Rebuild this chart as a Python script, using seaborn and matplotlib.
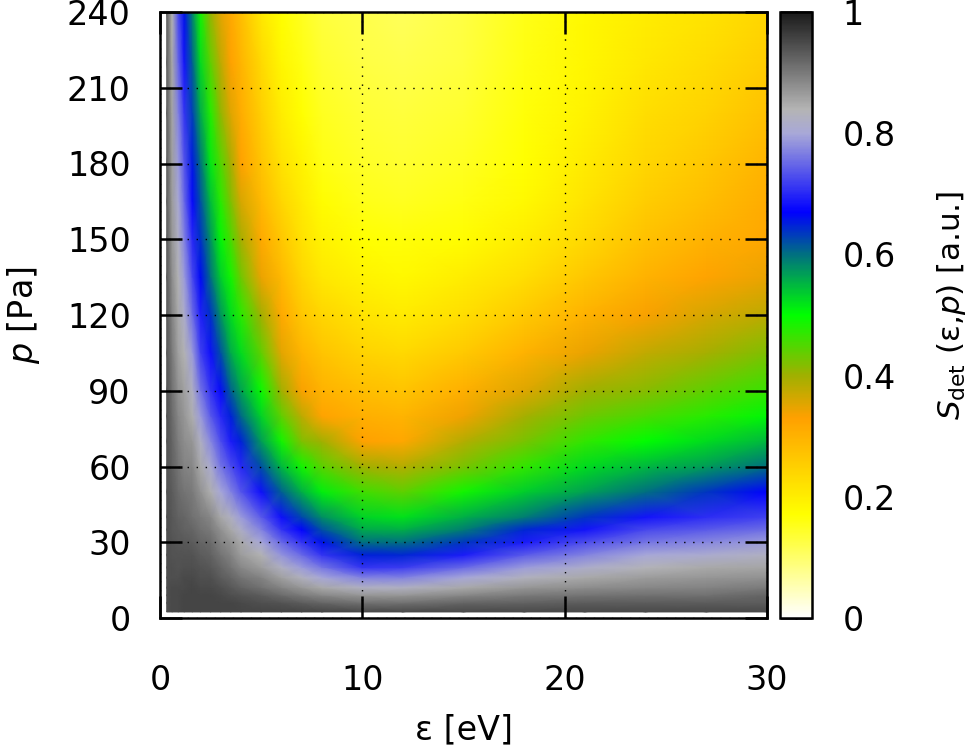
import numpy as np
import pandas as pd
import seaborn as sns
import matplotlib
matplotlib.use('Agg')
import matplotlib.pyplot as plt
from matplotlib.colors import LinearSegmentedColormap

# grid of the map, finer where the signal changes fast
energy_ev = [0.33, 0.6, 0.9, 1.2, 1.6, 2, 2.5, 3, 3.5, 4, 5, 6, 7, 8, 10, 12, 15, 18, 21, 24, 27, 30]
pressure_pa = [2.4, 6, 9, 12, 16, 20, 25, 30, 35, 40, 50, 60, 70, 80, 90, 105, 120, 135, 150, 165, 180, 200, 220, 240]

# signal, one list per energy, low to high pressure
s_e0p33 = [.945, .945, .945, .945, .945, .945, .945, .945, .945, .945, .94, .94, .94, .94, .94, .935, .935, .935, .935, .93, .93, .93, .93, .93]
s_e0p6 = [.95, .95, .95, .95, .945, .945, .94, .94, .935, .935, .93, .925, .92, .915, .91, .90, .89, .88, .87, .865, .86, .855, .85, .84]
s_e0p9 = [.95, .95, .95, .95, .945, .94, .94, .935, .93, .925, .915, .905, .895, .885, .875, .86, .85, .84, .825, .805, .79, .77, .75, .73]
s_e1p2 = [.955, .955, .955, .95, .95, .945, .94, .935, .925, .92, .905, .89, .88, .87, .86, .84, .815, .79, .77, .75, .735, .71, .685, .66]
s_e1p6 = [.955, .955, .955, .955, .95, .945, .94, .93, .92, .91, .90, .885, .87, .845, .825, .79, .755, .725, .70, .675, .655, .63, .61, .585]
s_e2 = [.955, .955, .955, .95, .945, .94, .93, .92, .91, .90, .875, .85, .825, .79, .76, .72, .695, .665, .64, .62, .60, .56, .525, .49]
s_e2p5 = [.955, .955, .955, .95, .945, .935, .925, .915, .90, .885, .845, .81, .775, .74, .71, .68, .64, .60, .575, .545, .515, .48, .44, .405]
s_e3 = [.955, .955, .95, .945, .93, .92, .905, .89, .875, .85, .80, .76, .73, .70, .675, .62, .575, .535, .505, .475, .45, .41, .38, .35]
s_e3p5 = [.955, .955, .945, .935, .92, .905, .89, .875, .85, .825, .77, .73, .69, .65, .61, .56, .525, .49, .455, .42, .395, .355, .33, .315]
s_e4 = [.955, .95, .94, .925, .905, .885, .865, .85, .82, .79, .735, .70, .65, .605, .565, .525, .475, .43, .395, .36, .33, .31, .295, .28]
s_e5 = [.955, .945, .93, .91, .89, .865, .84, .80, .77, .74, .68, .62, .57, .53, .495, .44, .40, .345, .315, .29, .27, .25, .235, .21]
s_e6 = [.955, .94, .915, .89, .86, .825, .785, .75, .71, .68, .61, .55, .49, .44, .40, .35, .315, .29, .265, .24, .22, .20, .185, .17]
s_e7 = [.955, .93, .90, .87, .83, .79, .75, .71, .67, .625, .555, .49, .42, .38, .335, .295, .265, .24, .22, .205, .19, .17, .16, .15]
s_e8 = [.955, .92, .885, .85, .80, .76, .71, .66, .62, .58, .51, .445, .40, .325, .30, .27, .24, .21, .19, .175, .16, .15, .14, .13]
s_e10 = [.95, .91, .87, .825, .77, .71, .65, .60, .56, .53, .46, .40, .33, .305, .28, .245, .215, .19, .17, .155, .145, .135, .125, .12]
s_e12 = [.95, .91, .87, .825, .77, .715, .645, .60, .555, .52, .44, .385, .32, .295, .27, .235, .205, .18, .165, .15, .14, .13, .12, .11]
s_e15 = [.95, .92, .885, .85, .80, .75, .69, .635, .59, .555, .49, .425, .385, .34, .305, .26, .225, .20, .175, .16, .15, .14, .13, .125]
s_e18 = [.95, .925, .90, .87, .83, .79, .74, .69, .645, .59, .535, .47, .425, .395, .355, .30, .26, .225, .20, .18, .17, .165, .16, .155]
s_e21 = [.95, .93, .905, .88, .85, .815, .77, .73, .685, .635, .565, .525, .47, .43, .40, .345, .30, .265, .235, .215, .205, .19, .185, .18]
s_e24 = [.95, .93, .91, .885, .865, .835, .80, .76, .725, .685, .60, .55, .50, .455, .415, .375, .335, .30, .275, .255, .24, .225, .21, .20]
s_e27 = [.95, .93, .91, .89, .87, .85, .81, .775, .74, .705, .635, .57, .525, .475, .44, .395, .36, .325, .30, .28, .265, .245, .23, .215]
s_e30 = [.95, .93, .92, .90, .875, .855, .825, .79, .755, .72, .67, .60, .55, .505, .465, .42, .38, .345, .32, .31, .295, .275, .255, .24]

columns = [s_e0p33, s_e0p6, s_e0p9, s_e1p2, s_e1p6, s_e2, s_e2p5, s_e3, s_e3p5, s_e4, s_e5, s_e6, s_e7,
           s_e8, s_e10, s_e12, s_e15, s_e18, s_e21, s_e24, s_e27, s_e30]

x_ticks = [0, 10, 20, 30]
y_ticks = [0, 30, 60, 90, 120, 150, 180, 210, 240]
cbar_ticks = [0, 0.2, 0.4, 0.6, 0.8, 1]
cbar_labels = ['0', '0.2', '0.4', '0.6', '0.8', '1']

signal = pd.DataFrame(np.column_stack(columns), index=pressure_pa, columns=energy_ev)

cmap = LinearSegmentedColormap.from_list('sdet', [
    (0.0, '#ffffff'), (0.17, '#ffff00'), (0.33, '#ffa000'), (0.40, '#a0b000'),
    (0.50, '#00ff00'), (0.60, '#007080'), (0.67, '#0000ff'), (0.80, '#a8a8d8'),
    (0.84, '#b4b4b4'), (1.0, '#1a1a1a')], N=512)

sns.set_theme(style='white', rc={'font.size': 24})
plt.rcParams['font.family'] = ['DejaVu Sans']
plt.rcParams['mathtext.fontset'] = 'dejavusans'

fig = plt.figure(figsize=(9.71, 7.5), dpi=100)
ax = fig.add_axes([160 / 971, 132 / 750, 607 / 971, 606 / 750])
cax = fig.add_axes([780 / 971, 132 / 750, 32 / 971, 606 / 750])

sns.heatmap(signal, ax=ax, cbar_ax=cax, cmap=cmap, vmin=0, vmax=1, shading='gouraud',
            xticklabels=False, yticklabels=False, cbar_kws={'ticks': cbar_ticks})

# heatmap works in cell numbers, so map them back to real eV and Pa
x_idx = np.arange(-1, len(energy_ev))
y_idx = np.arange(-1, len(pressure_pa))
x_val = np.array([0] + energy_ev)
y_val = np.array([0] + pressure_pa)

ax.set_xscale('function', functions=(lambda i: np.interp(i, x_idx, x_val), lambda v: np.interp(v, x_val, x_idx)))
ax.set_yscale('function', functions=(lambda i: np.interp(i, y_idx, y_val), lambda v: np.interp(v, y_val, y_idx)))
ax.set_xlim(x_idx[0], x_idx[-1])
ax.set_ylim(y_idx[0], y_idx[-1])
ax.set_xticks(np.interp(x_ticks, x_val, x_idx), labels=[str(t) for t in x_ticks])
ax.set_yticks(np.interp(y_ticks, y_val, y_idx), labels=[str(t) for t in y_ticks])
ax.minorticks_off()

ax.grid(True, color='black', linewidth=1.0, linestyle=(0, (1, 5.5)))
ax.set_axisbelow(False)
ax.tick_params(axis='both', direction='in', length=16, width=1.8, color='black',
               top=True, right=True, bottom=True, left=True, labelsize=24, labelcolor='black')
ax.tick_params(axis='x', pad=33)
ax.tick_params(axis='y', pad=21)
for spine in ax.spines.values():
    spine.set_visible(True)
    spine.set_color('black')
    spine.set_linewidth(1.8)

ax.set_xlabel('ε [eV]', fontsize=24, color='black', labelpad=12)
ax.set_ylabel('$p$ [Pa]', fontsize=24, color='black', labelpad=18)

cbar = ax.collections[0].colorbar
cbar.outline.set_visible(True)
cbar.outline.set_edgecolor('black')
cbar.outline.set_linewidth(1.8)
cbar.set_ticks(cbar_ticks, labels=cbar_labels)
cax.tick_params(axis='y', direction='in', length=12, width=1.8, color='black', left=True, right=True,
                labelleft=False, labelright=True, labelsize=24, labelcolor='black', pad=22)
cbar.set_label('$S_{\\mathrm{det}}$ (ε,$p$) [a.u.]', fontsize=22.4, color='black', labelpad=28)
cax.yaxis.label.set_y(0.515)

fig.savefig('out.png', dpi=100)
